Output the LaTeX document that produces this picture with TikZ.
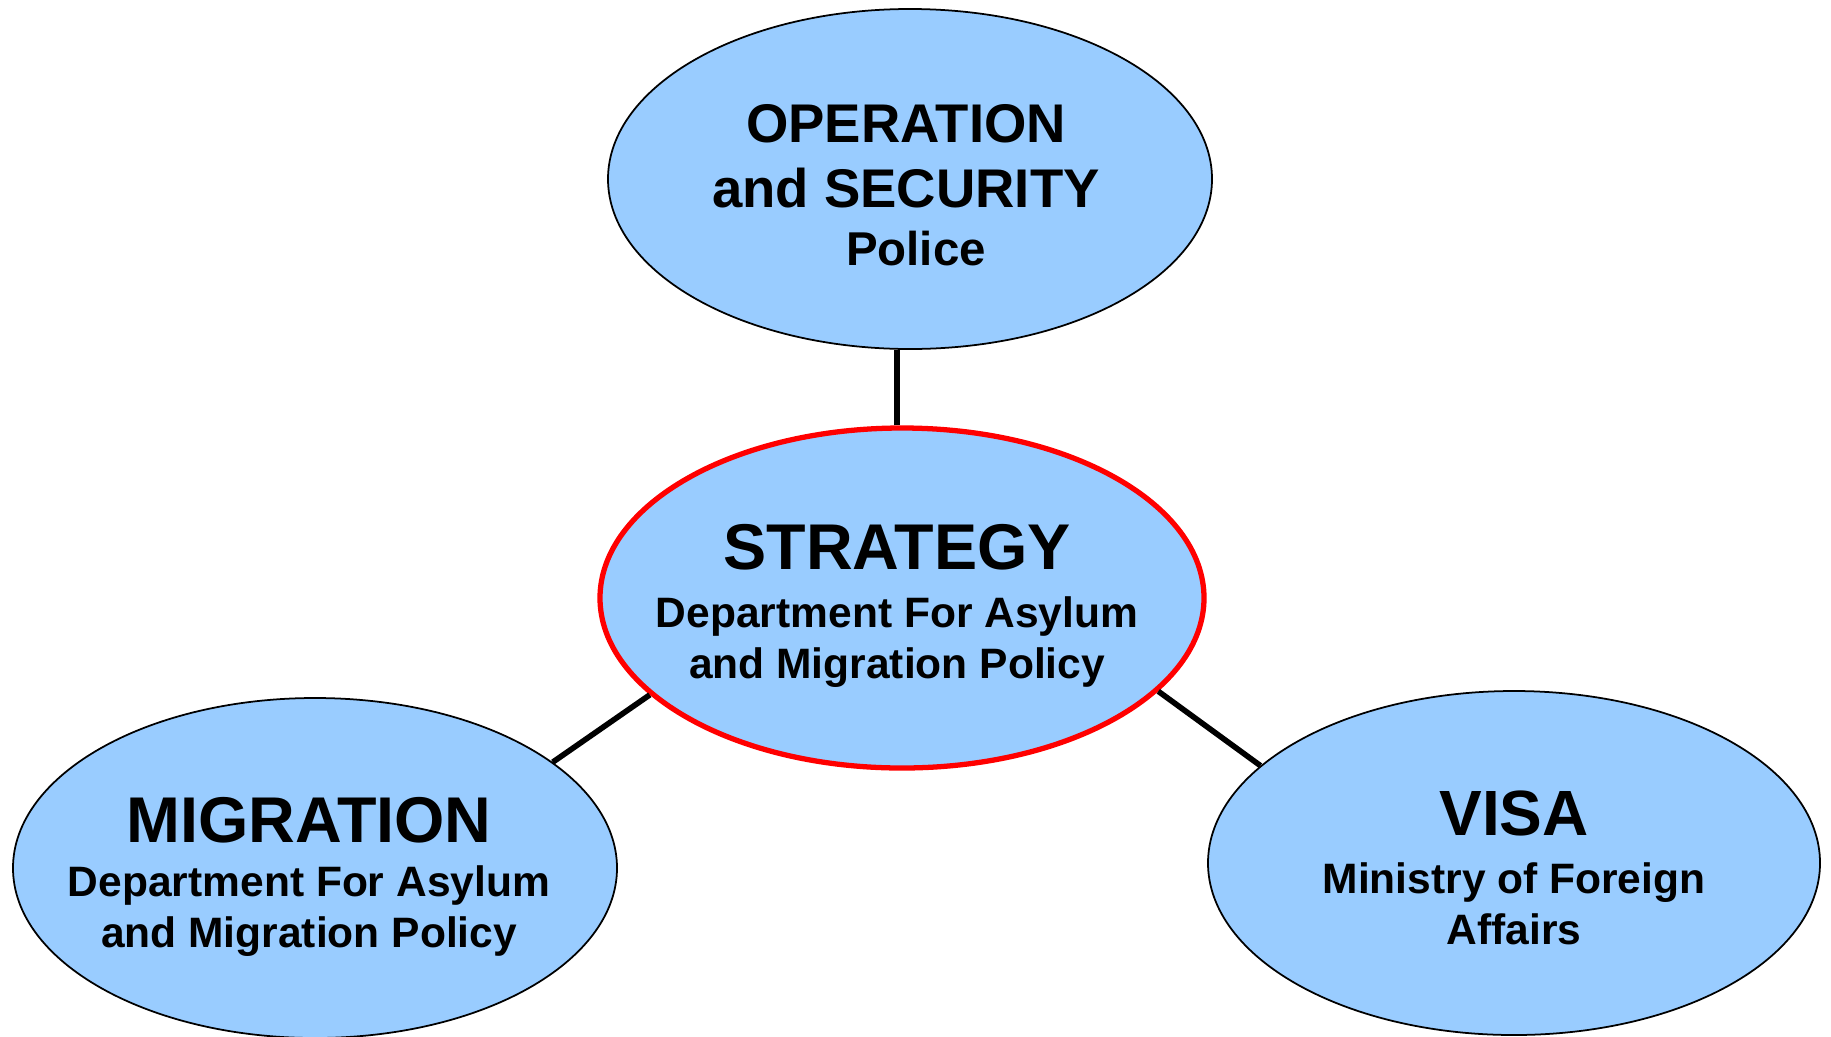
\documentclass[tikz,border=0pt]{standalone}
\usepackage{fontspec}
\setmainfont{Liberation Sans}
\usetikzlibrary{shapes.geometric}
\definecolor{unitblue}{RGB}{153,204,255}
\tikzstyle{unit} = [ellipse, draw=black, line width=0.5pt, fill=unitblue, inner sep=0pt, minimum width=6.04cm, minimum height=3.40cm]
\tikzstyle{lead} = [unit, draw=red, line width=1.5pt]
\tikzstyle{unittext} = [align=center, inner sep=0pt, font=\bfseries\fontsize{12.1}{14.5}\selectfont]
\tikzstyle{link} = [line width=1.6pt]

\begin{document}
\begin{tikzpicture}
            \useasboundingbox (0,0) rectangle (18.31,-10.36);
            \node[unit] (op) at (9.10,-1.79) {};
            \node[lead] (strat) at (9.02,-5.98) {};
            \node[unit] (mig) at (3.15,-8.68) {};
            \node[unit, minimum width=6.12cm, minimum height=3.44cm] (visa) at (15.14,-8.63) {};
            \node[unittext, font=\bfseries\fontsize{15.5}{18.5}\selectfont] (optext) at ([xshift=-0.04cm,yshift=-0.06cm]op) {OPERATION\\and SECURITY\\[-2pt]\hspace*{0.2cm}{\fontsize{13.5}{16}\selectfont Police}};
            \node[unittext] (strattext) at ([xshift=-0.05cm,yshift=-0.08cm]strat) {{\fontsize{18.4}{18}\selectfont STRATEGY}\\[2pt]Department For Asylum\\and Migration Policy};
            \node[unittext] (migtext) at ([xshift=-0.06cm,yshift=-0.09cm]mig) {{\fontsize{18.4}{18}\selectfont MIGRATION}\\[1pt]Department For Asylum\\and Migration Policy};
            \node[unittext] (visatext) at ([yshift=-0.05cm]visa) {{\fontsize{18.2}{18}\selectfont VISA}\\[2pt]Ministry of Foreign\\Affairs};
            \draw[link] ([xshift=-0.05cm]strat.north) -- ([xshift=-0.05cm]strat.north |- op.south);
            \draw[link] (strat.201) -- (mig.24);
            \draw[link] (strat.340) -- (visa.159);
        \end{tikzpicture}
\end{document}
